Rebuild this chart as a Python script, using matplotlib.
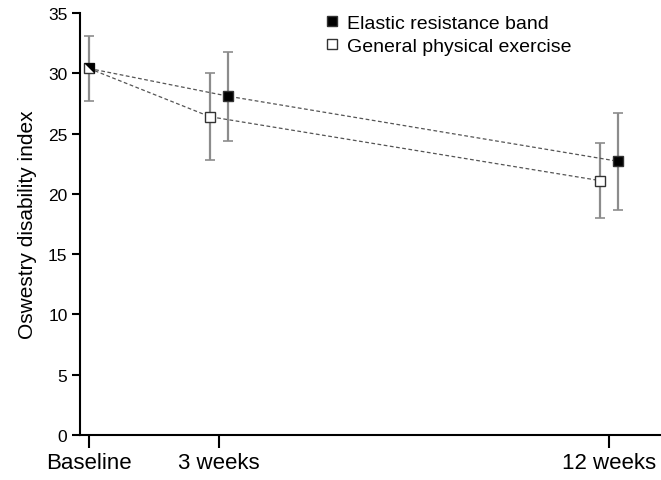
import matplotlib
matplotlib.use('Agg')
import matplotlib.pyplot as plt
from matplotlib.lines import Line2D

plt.rcParams['font.family'] = ['Liberation Sans', 'DejaVu Sans']

# visits (weeks) and tick labels
weeks = [0, 3, 12]
visit_labels = ['Baseline', '3 weeks', '12 weeks']

# Oswestry disability index, mean and 95% CI limits
elastic_mean = [30.4, 28.1, 22.7]
elastic_low = [27.7, 24.4, 18.7]
elastic_high = [33.1, 31.8, 26.7]

general_mean = [30.4, 26.4, 21.1]
general_low = [27.7, 22.8, 18.0]
general_high = [33.1, 30.0, 24.2]

# small horizontal shift so the two groups don't overlap
shift = [0.0, 0.21, 0.21]

x_el = [w + s for w, s in zip(weeks, shift)]
x_ge = [w - s for w, s in zip(weeks, shift)]

fig = plt.figure(figsize=(6.61, 4.81), dpi=100)
ax = fig.add_axes([80/661, 45/481, 581/661, 422/481])

grey = '#8c8c8c'
edge = '#333333'

# error bars
ax.errorbar(x_ge, general_mean,
            yerr=[[m - l for m, l in zip(general_mean, general_low)],
                  [h - m for m, h in zip(general_mean, general_high)]],
            fmt='none', ecolor=grey, elinewidth=1.6, capsize=3.5, capthick=1.2, zorder=1)
ax.errorbar(x_el[1:], elastic_mean[1:],
            yerr=[[m - l for m, l in zip(elastic_mean[1:], elastic_low[1:])],
                  [h - m for m, h in zip(elastic_mean[1:], elastic_high[1:])]],
            fmt='none', ecolor=grey, elinewidth=1.6, capsize=3.5, capthick=1.2, zorder=1)

# dashed connecting lines
ax.plot(x_el, elastic_mean, ls=(0, (3, 2)), color='#555555', lw=0.9, zorder=2)
ax.plot(x_ge, general_mean, ls=(0, (3, 2)), color='#555555', lw=0.9, zorder=2)

# markers
ax.plot(x_ge, general_mean, ls='none', marker='s', ms=7, mfc='white', mec=edge, mew=1.0, zorder=3)
ax.plot(x_el[1:], elastic_mean[1:], ls='none', marker='s', ms=7, mfc='black', mec=edge, mew=1.0, zorder=4)
# overlapping baseline point: black upper-right half
ax.plot(x_el[0], elastic_mean[0], ls='none', marker=[(-1, 1), (1, 1), (1, -1)], ms=7,
        mfc='black', mec='black', mew=0.5, zorder=4)

ax.set_xlim(-0.208, 13.2)
ax.set_ylim(0, 35)
ax.set_xticks(weeks)
ax.set_xticklabels(visit_labels, fontsize=16)
ax.set_yticks(range(0, 36, 5))
ax.tick_params(axis='y', labelsize=12.5, length=6, width=1.5, direction='out', pad=3)
ax.tick_params(axis='x', length=9, width=1.5, direction='out', pad=3)
ax.set_ylabel('Oswestry disability index', fontsize=15, labelpad=8)

ax.spines['top'].set_visible(False)
ax.spines['right'].set_visible(False)
ax.spines['left'].set_linewidth(1.5)
ax.spines['bottom'].set_linewidth(1.5)

handles = [Line2D([], [], ls='none', marker='s', ms=7, mfc='black', mec=edge),
           Line2D([], [], ls='none', marker='s', ms=7, mfc='white', mec=edge)]
fig.legend(handles, ['Elastic resistance band', 'General physical exercise'],
           loc='upper left', bbox_to_anchor=(324/661, 1 - 15/481), frameon=False,
           fontsize=14, handlelength=0.8, handletextpad=0.4, labelspacing=0.3,
           borderaxespad=0, borderpad=0)

fig.savefig('out.png', dpi=100)
